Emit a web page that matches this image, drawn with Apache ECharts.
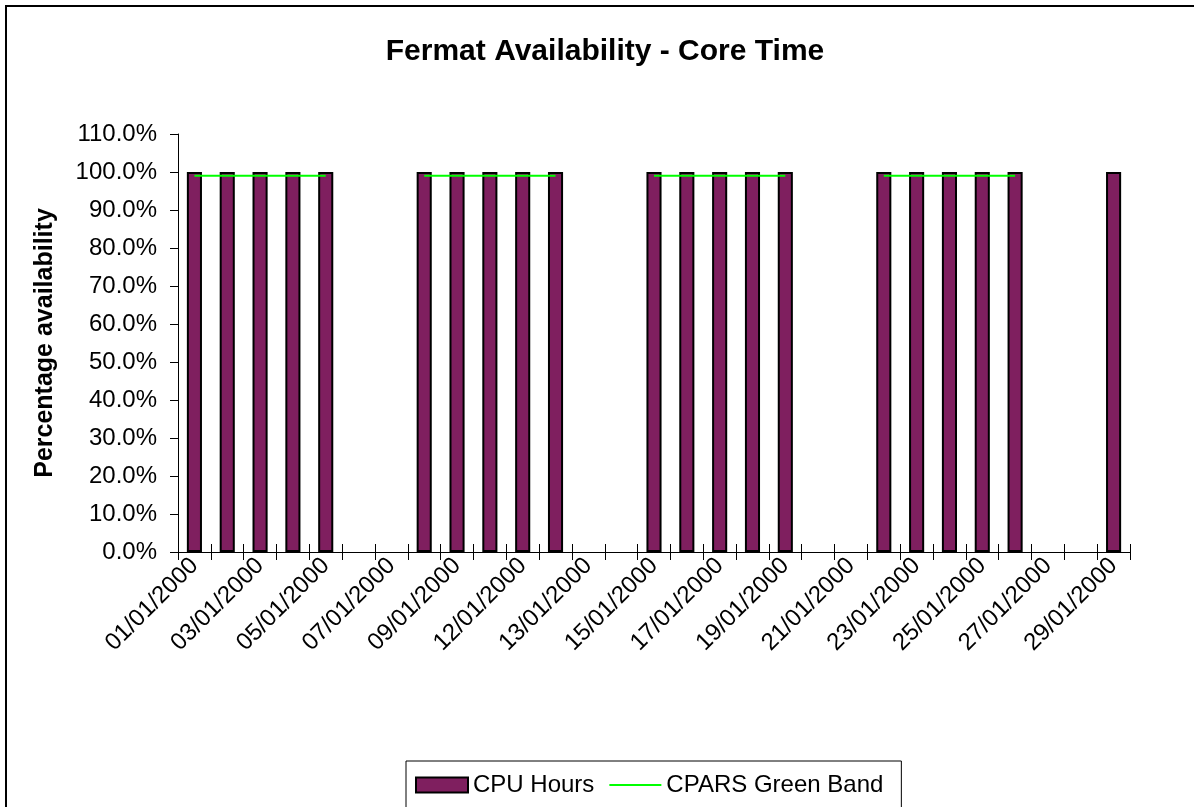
<!DOCTYPE html>
<html>
<head>
<meta charset="utf-8">
<title>Fermat Availability - Core Time</title>
<script src="https://cdn.jsdelivr.net/npm/echarts@6/dist/echarts.min.js"></script>
<style>
  html, body { margin: 0; padding: 0; background: #fff; }
  #chart { width: 1194px; height: 807px; }
</style>
</head>
<body>
<div id="chart"></div>
<script>
// categories (dates as printed on the axis)
const dates = [
  "01/01/2000", "02/01/2000", "03/01/2000", "04/01/2000", "05/01/2000",
  "06/01/2000", "07/01/2000", "08/01/2000", "09/01/2000", "10/01/2000",
  "12/01/2000", "11/01/2000", "13/01/2000", "14/01/2000", "15/01/2000",
  "16/01/2000", "17/01/2000", "18/01/2000", "19/01/2000", "20/01/2000",
  "21/01/2000", "22/01/2000", "23/01/2000", "24/01/2000", "25/01/2000",
  "26/01/2000", "27/01/2000", "28/01/2000", "29/01/2000"
];
// percentage availability, weekends empty
const cpuHours = [
  100, 100, 100, 100, 100, null, null,
  100, 100, 100, 100, 100, null, null,
  100, 100, 100, 100, 100, null, null,
  100, 100, 100, 100, 100, null, null,
  100
];
const greenBand = [
  99, 99, 99, 99, 99, null, null,
  99, 99, 99, 99, 99, null, null,
  99, 99, 99, 99, 99, null, null,
  99, 99, 99, 99, 99, null, null,
  null
];

const font = "Liberation Sans, Arial, sans-serif";

const options = {
  animation: false,
  textStyle: { fontFamily: font },
  title: {
    text: "Fermat Availability - Core Time",
    left: 600,
    top: 32,
    textAlign: "center",
    textStyle: { fontFamily: font, fontSize: 30, fontWeight: "bold", color: "#000" }
  },
  graphic: [
    {
      type: "rect",
      shape: { x: 6, y: 6, width: 1200, height: 820 },
      style: { fill: "none", stroke: "#000", lineWidth: 2 },
      silent: true
    }
  ],
  legend: {
    left: 406,
    top: 761,
    padding: [12, 18, 40, 9],
    itemGap: 14,
    itemWidth: 52,
    itemHeight: 15,
    borderColor: "#000",
    borderWidth: 1,
    textStyle: { fontFamily: font, fontSize: 24, color: "#000" },
    data: [
      { name: "CPU Hours", icon: "rect" },
      {
        name: "CPARS Green Band",
        itemStyle: { color: "rgba(0,0,0,0)", borderColor: "rgba(0,0,0,0)", borderWidth: 0 }
      }
    ]
  },
  grid: {
    left: 178,
    right: 64,
    top: 134,
    bottom: 255
  },
  xAxis: [
    {
      type: "category",
      data: dates,
      boundaryGap: true,
      axisLine: { lineStyle: { color: "#000", width: 1 } },
      axisTick: { show: true, interval: 0, length: 8, lineStyle: { color: "#000" } },
      axisLabel: {
        interval: 1,
        rotate: 45,
        margin: 10,
        fontFamily: font,
        fontSize: 24,
        color: "#000"
      },
      splitLine: { show: false }
    },
    {
      type: "category",
      data: dates,
      position: "bottom",
      boundaryGap: true,
      axisLine: { show: false },
      axisTick: { show: true, inside: true, interval: 0, length: 8, lineStyle: { color: "#000" } },
      axisLabel: { show: false },
      splitLine: { show: false }
    }
  ],
  yAxis: {
    type: "value",
    min: 0,
    max: 110,
    interval: 10,
    name: "Percentage availability",
    nameLocation: "middle",
    nameGap: 120,
    nameTextStyle: { fontFamily: font, fontSize: 25, fontWeight: "bold", color: "#000" },
    axisLine: { show: true, lineStyle: { color: "#000", width: 1 } },
    axisTick: { show: true, length: 8, lineStyle: { color: "#000" } },
    axisLabel: {
      margin: 21,
      fontFamily: font,
      fontSize: 24,
      color: "#000",
      formatter: v => v.toFixed(1) + "%"
    },
    splitLine: { show: false }
  },
  series: [
    {
      name: "CPU Hours",
      type: "bar",
      data: cpuHours,
      barWidth: "46%",
      itemStyle: {
        color: "#7f1f5f",
        borderColor: "#000",
        borderWidth: 2
      }
    },
    {
      name: "CPARS Green Band",
      type: "line",
      data: greenBand,
      symbol: "none",
      connectNulls: false,
      itemStyle: { color: "#00ff00" },
      lineStyle: { color: "#00ff00", width: 2 }
    }
  ]
};

const myChart = echarts.init(document.getElementById("chart"), null, { renderer: "canvas" });
myChart.setOption(options);
</script>
</body>
</html>
